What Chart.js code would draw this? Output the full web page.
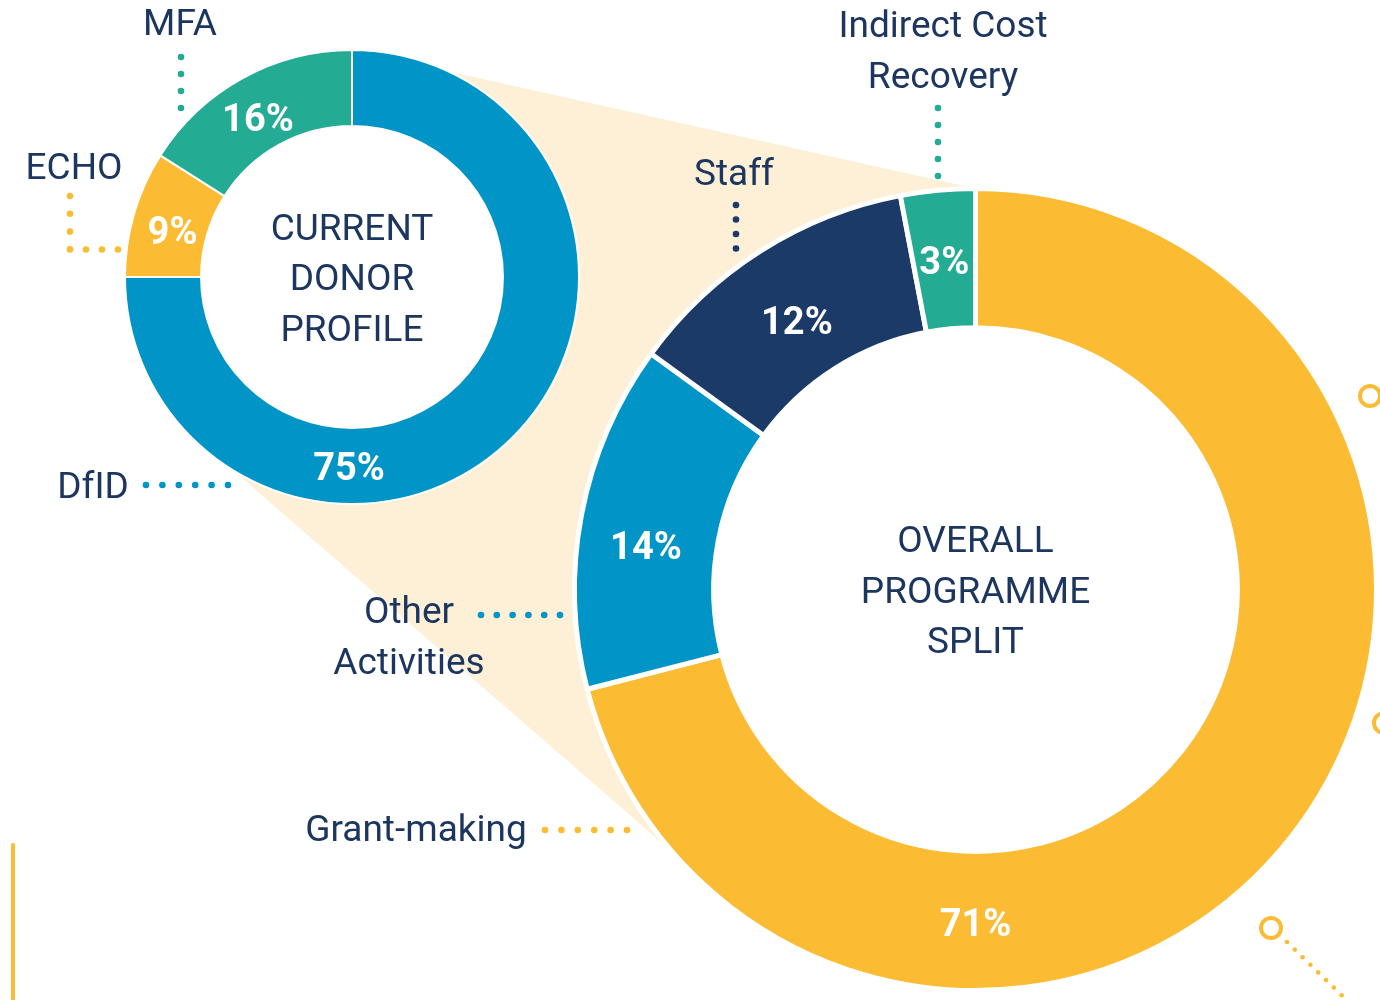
<!DOCTYPE html>
<html>
<head>
<meta charset="utf-8">
<title>Current donor profile / overall programme split</title>
<script src="https://cdn.jsdelivr.net/npm/chart.js@4.4.1/dist/chart.umd.min.js"></script>
<style>
  html, body { margin: 0; padding: 0; background: #fff; }
  .stage { position: relative; width: 1380px; height: 1000px; overflow: hidden; }
  .stage canvas { position: absolute; left: 0; top: 0; }
</style>
</head>
<body>
<div class="stage">
  <canvas id="backdrop" width="1380" height="1000"></canvas>
  <canvas id="splitChart" width="1380" height="1000"></canvas>
  <canvas id="donorChart" width="1380" height="1000"></canvas>
</div>
<script>
// data
var donorLabels = ["DfID", "ECHO", "MFA"];
var donorValues = [75, 9, 16];
var splitLabels = ["Grant-making", "Other Activities", "Staff", "Indirect Cost Recovery"];
var splitValues = [71, 14, 12, 3];

var BLUE = "#0194c6", TEAL = "#24ab94", YELLOW = "#fbbc34", NAVY = "#1b3a68";
var INK = "#1c3660", BEIGE = "#fef0d7";
var FONT = "Roboto, 'Noto Sans', sans-serif";
var TEXT_SIZE = 37, PCT_SIZE = 38;

(function () {
  'use strict';

  // draw text so that its cap height is centred on y
  function capText(ctx, str, x, y, size) {
    ctx.fillText(str, x, y + size * 0.355);
  }

  // percentage inside each slice; a slice that crosses the bottom gets its label there
  var sliceText = {
    id: "sliceText",
    afterDatasetsDraw: function(chart, args, opts) {
      var ctx = chart.ctx;
      var meta = chart.getDatasetMeta(0);
      var values = chart.data.datasets[0].data;
      var nudge = opts.nudge || [];
      ctx.save();
      ctx.fillStyle = "#fff";
      ctx.font = "700 " + PCT_SIZE + "px " + FONT;
      ctx.textAlign = "center";
      ctx.textBaseline = "alphabetic";
      meta.data.forEach(function(arc, i) {
        var p = arc.getProps(["x", "y", "startAngle", "endAngle", "innerRadius", "outerRadius"], true);
        var a = (p.startAngle + p.endAngle) / 2;
        var bottom = Math.PI / 2;
        if (p.startAngle <= bottom && p.endAngle >= bottom) a = bottom;
        var r = (p.innerRadius + p.outerRadius) / 2;
        var n = nudge[i] || [0, 0];
        capText(ctx, values[i] + "%", p.x + r * Math.cos(a) + n[0], p.y + r * Math.sin(a) + n[1], PCT_SIZE);
      });
      ctx.restore();
    }
  };

  var centerTitle = {
    id: "centerTitle",
    afterDraw: function(chart, args, opts) {
      var arc = chart.getDatasetMeta(0).data[0];
      if (!arc || !opts.lines) return;
      var ctx = chart.ctx;
      var n = opts.lines.length;
      ctx.save();
      ctx.fillStyle = INK;
      ctx.font = "400 " + TEXT_SIZE + "px " + FONT;
      ctx.textAlign = "center";
      ctx.textBaseline = "alphabetic";
      opts.lines.forEach(function(line, i) {
        capText(ctx, line, arc.x, arc.y + (i - (n - 1) / 2) * 50.5, TEXT_SIZE);
      });
      ctx.restore();
    }
  };

  // category names with dotted leaders
  var callouts = {
    id: "callouts",
    afterDraw: function(chart, args, opts) {
      var ctx = chart.ctx;
      var labels = chart.data.labels;
      var colors = chart.data.datasets[0].backgroundColor;
      ctx.save();
      (opts.items || []).forEach(function(it) {
        var words = labels[it.index].split(" ");
        var lines = it.wrap ? [words.slice(0, it.wrap).join(" "), words.slice(it.wrap).join(" ")] : [labels[it.index]];
        ctx.fillStyle = INK;
        ctx.font = "400 " + TEXT_SIZE + "px " + FONT;
        ctx.textAlign = "center";
        ctx.textBaseline = "alphabetic";
        lines.forEach(function(line, i) { capText(ctx, line, it.x, it.y + i * 51, TEXT_SIZE); });
        ctx.fillStyle = colors[it.index];
        it.dots.forEach(function(run) {
          for (var k = 0; k < run.n; k++) {
            ctx.beginPath();
            ctx.arc(run.x + k * run.dx, run.y + k * run.dy, 3.3, 0, Math.PI * 2);
            ctx.fill();
          }
        });
      });
      ctx.restore();
    }
  };

  function makeDonut(id, labels, values, colors, opts) {
    return new Chart(document.getElementById(id), {
      type: "doughnut",
      data: {
        labels: labels,
        datasets: [{
          data: values,
          backgroundColor: colors,
          borderColor: "#fff",
          borderWidth: opts.border,
          hoverBorderWidth: opts.border,
          hoverOffset: 0
        }]
      },
      options: {
        responsive: false,
        animation: false,
        events: [],
        cutout: opts.cutout,
        layout: { padding: opts.padding },
        plugins: {
          legend: { display: false },
          tooltip: { enabled: false },
          sliceText: { nudge: opts.nudge },
          centerTitle: { lines: opts.title },
          callouts: { items: opts.callouts }
        }
      },
      plugins: [sliceText, centerTitle, callouts]
    });
  }

  var splitChart = makeDonut("splitChart", splitLabels, splitValues, [YELLOW, BLUE, NAVY, TEAL], {
    border: 5,
    cutout: "65.3%",
    padding: { left: 572, top: 186, right: 1, bottom: 7 },
    nudge: [[0, 2], [-4, 18], [-1, 11], [0, 1]],
    title: ["OVERALL", "PROGRAMME", "SPLIT"],
    callouts: [
      { index: 3, wrap: 2, x: 943, y: 24, dots: [{ x: 938, y: 108, dx: 0, dy: 17, n: 5 }] },
      { index: 2, x: 734, y: 172, dots: [{ x: 736, y: 205, dx: 0, dy: 14.5, n: 4 }] },
      { index: 1, wrap: 1, x: 409, y: 610, dots: [{ x: 481, y: 615, dx: 15.8, dy: 0, n: 6 }] },
      { index: 0, x: 416, y: 828, dots: [{ x: 545, y: 830, dx: 16.4, dy: 0, n: 6 }] }
    ]
  });

  var donorChart = makeDonut("donorChart", donorLabels, donorValues, [BLUE, YELLOW, TEAL], {
    border: 2,
    cutout: "66.5%",
    padding: { left: 124, top: 49, right: 800, bottom: 495 },
    nudge: [[-3, 1], [2, 6], [-3, 6]],
    title: ["CURRENT", "DONOR", "PROFILE"],
    callouts: [
      { index: 2, x: 180, y: 22, dots: [{ x: 181, y: 57, dx: 0, dy: 17, n: 4 }] },
      { index: 1, x: 74, y: 166, dots: [{ x: 70, y: 196, dx: 0, dy: 17.8, n: 4 }, { x: 86, y: 249.5, dx: 16, dy: 0, n: 3 }] },
      { index: 0, x: 93, y: 485, dots: [{ x: 146, y: 485, dx: 16.4, dy: 0, n: 6 }] }
    ]
  });

  // beige zoom wedge joining the two rings, plus the small ornaments
  function drawBackdrop() {
    var ctx = document.getElementById("backdrop").getContext("2d");
    var a = donorChart.getDatasetMeta(0).data[0];
    var b = splitChart.getDatasetMeta(0).data[0];
    function pt(arc, ang) { return [arc.x + arc.outerRadius * Math.cos(ang), arc.y + arc.outerRadius * Math.sin(ang)]; }
    var poly = [pt(a, -Math.PI / 2), pt(b, -Math.PI / 2), [b.x, b.y], pt(b, 2.426), pt(a, 2.117), [a.x, a.y]];
    ctx.fillStyle = BEIGE;
    ctx.beginPath();
    poly.forEach(function(p, i) { if (i) ctx.lineTo(p[0], p[1]); else ctx.moveTo(p[0], p[1]); });
    ctx.closePath();
    ctx.fill();
    ctx.fillStyle = "#fff";
    [a, b].forEach(function(arc) {
      ctx.beginPath();
      ctx.arc(arc.x, arc.y, arc.innerRadius, 0, Math.PI * 2);
      ctx.fill();
    });

    ctx.strokeStyle = YELLOW;
    ctx.lineCap = "round";
    ctx.lineWidth = 4;
    ctx.beginPath();
    ctx.moveTo(13, 845);
    ctx.lineTo(13, 1004);
    ctx.stroke();
    [[1370, 396], [1384, 723], [1271, 928]].forEach(function(c) {
      ctx.beginPath();
      ctx.arc(c[0], c[1], 10, 0, Math.PI * 2);
      ctx.stroke();
    });
    ctx.fillStyle = YELLOW;
    for (var k = 0; k < 8; k++) {
      ctx.beginPath();
      ctx.arc(1287 + k * 7.8, 942 + k * 7.6, 2.3, 0, Math.PI * 2);
      ctx.fill();
    }
  }

  drawBackdrop();
})();
</script>
</body>
</html>
